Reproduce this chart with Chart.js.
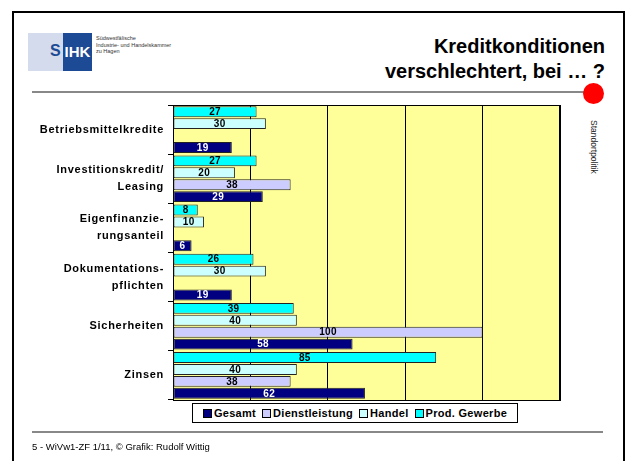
<!DOCTYPE html>
<html>
<head>
<meta charset="utf-8">
<script src="https://cdn.jsdelivr.net/npm/chart.js"></script>
<style>
  body { margin: 0; width: 627px; height: 461px; background: #fff; overflow: hidden; position: relative; font-family: Arial, "Liberation Sans", sans-serif; }
  .abs { position: absolute; }
  #frame { left: 12px; top: 11px; width: 609px; height: 470px; border: 2px solid #000; }
  #logo { left: 28px; top: 33px; width: 64px; height: 38px; background: #d3dbec; }
  #logoS { left: 50px; top: 42px; font: bold 16px Arial, "Liberation Sans", sans-serif; color: #1d4a94; }
  #logoIHK { left: 63px; top: 33px; width: 29px; height: 38px; background: #1d4a94; color: #fff; font: bold 15px Arial, "Liberation Sans", sans-serif; line-height: 38px; text-align: center; }
  #logoText { left: 96px; top: 35px; font: 5.5px Arial, "Liberation Sans", sans-serif; color: #333; line-height: 6.5px; }
  #title { right: 22px; top: 34px; font: bold 20px Arial, "Liberation Sans", sans-serif; text-align: right; line-height: 25px; color: #000; }
  #rule1 { left: 32px; top: 91px; width: 553px; height: 2px; background: #888; }
  #dot { left: 583px; top: 83px; width: 21px; height: 21px; border-radius: 50%; background: #f00; }
  #side { left: 589px; top: 120px; writing-mode: vertical-rl; font: 8.5px Arial, "Liberation Sans", sans-serif; color: #222; }
  #rule2 { left: 32px; top: 431px; width: 571px; height: 2px; background: #888; }
  #foot { left: 32px; top: 441px; font: 9.5px Arial, "Liberation Sans", sans-serif; color: #000; }
  #legend { left: 192px; top: 403px; width: 324px; height: 18px; border: 1px solid #000; background: #fff; display: flex; align-items: center; justify-content: center; gap: 6px; font: bold 11px Arial, "Liberation Sans", sans-serif; letter-spacing: 0.3px; }
  .item { display: flex; align-items: center; gap: 2px; }
  .sw { width: 7px; height: 7px; border: 1px solid #000; }
  canvas { position: absolute; left: 0; top: 0; }
</style>
</head>
<body>
<div id="frame" class="abs"></div>
<div id="logo" class="abs"></div>
<div id="logoS" class="abs">S</div>
<div id="logoIHK" class="abs">IHK</div>
<div id="logoText" class="abs">Südwestfälische<br>Industrie- und Handelskammer<br>zu Hagen</div>
<div id="title" class="abs">Kreditkonditionen<br>verschlechtert, bei … ?</div>
<div id="rule1" class="abs"></div>
<div id="dot" class="abs"></div>
<div id="side" class="abs">Standortpolitik</div>
<canvas id="chart" width="627" height="461"></canvas>
<div id="legend" class="abs"></div>
<div id="rule2" class="abs"></div>
<div id="foot" class="abs">5 - WiVw1-ZF 1/11, © Grafik: Rudolf Wittig</div>

<script>
var categories = [
    "Betriebsmittelkredite",
    ["Investitionskredit/", "Leasing"],
    ["Eigenfinanzie-", "rungsanteil"],
    ["Dokumentations-", "pflichten"],
    "Sicherheiten",
    "Zinsen"
];

var prodGewerbe = [27, 27, 8, 26, 39, 85];
var handel = [30, 20, 10, 30, 40, 40];
var dienstleistung = [null, 38, null, null, 100, 38];
var gesamt = [19, 29, 6, 19, 58, 62];

var xTicks = [0, 25, 50, 75, 100, 125];

var series = [
    { label: "Prod. Gewerbe", data: prodGewerbe, color: "#00ffff", text: "#000" },
    { label: "Handel", data: handel, color: "#ccffff", text: "#000" },
    { label: "Dienstleistung", data: dienstleistung, color: "#ccccff", text: "#000" },
    { label: "Gesamt", data: gesamt, color: "#000080", text: "#fff" }
];

var font = "Arial, 'Liberation Sans', sans-serif";

// yellow plot background and black frame, wider letters for the axis labels
var plotFrame = {
    id: "plotFrame",
    beforeDraw(chart) {
        var a = chart.chartArea, ctx = chart.ctx;
        ctx.save();
        ctx.fillStyle = "#ffff99";
        ctx.fillRect(a.left, a.top, a.right - a.left, a.bottom - a.top);
        ctx.restore();
        ctx.letterSpacing = "0.7px";
    },
    beforeDatasetsDraw(chart) {
        var a = chart.chartArea, ctx = chart.ctx;
        ctx.save();
        ctx.strokeStyle = "#000";
        ctx.lineWidth = 1;
        ctx.strokeRect(a.left + 0.5, a.top + 0.5, a.right - a.left - 1, a.bottom - a.top);
        ctx.restore();
    }
};

// value labels in the middle of each bar
var barLabels = {
    id: "barLabels",
    afterDatasetsDraw(chart) {
        var ctx = chart.ctx;
        ctx.save();
        ctx.letterSpacing = "0.3px";
        ctx.font = "bold 10px " + font;
        ctx.textAlign = "center";
        ctx.textBaseline = "middle";
        chart.data.datasets.forEach((ds, i) => {
            chart.getDatasetMeta(i).data.forEach((bar, j) => {
                if (ds.data[j] == null) return;
                ctx.fillStyle = series[i].text;
                ctx.fillText(ds.data[j], (bar.x + bar.base) / 2, bar.y + 0.5);
            });
        });
        ctx.restore();
    }
};

new Chart("chart", {
    type: "bar",
    data: {
        labels: categories,
        datasets: series.map(s => ({
            label: s.label,
            data: s.data,
            backgroundColor: s.color,
            borderColor: "#222",
            borderWidth: 1,
            borderSkipped: false,
            barPercentage: 0.92,
            categoryPercentage: 0.97
        }))
    },
    options: {
        indexAxis: "y",
        responsive: false,
        animation: false,
        layout: { padding: { top: 105, right: 67, bottom: 61, left: 0 } },
        plugins: {
            legend: { display: false },
            tooltip: { enabled: false }
        },
        scales: {
            x: {
                min: 0,
                max: 125,
                afterBuildTicks: s => { s.ticks = xTicks.map(v => ({ value: v })); },
                afterFit: s => { s.height = 0; },
                ticks: { display: false },
                grid: { color: "#000", lineWidth: 1, drawTicks: false },
                border: { color: "#000" }
            },
            y: {
                afterFit: s => { s.width = 173; },
                ticks: {
                    color: "#000",
                    padding: 4,
                    font: { family: font, size: 11, weight: "bold", lineHeight: 1.55 }
                },
                grid: { drawOnChartArea: false, color: "#000", tickLength: 5 },
                border: { color: "#000" }
            }
        }
    },
    plugins: [plotFrame, barLabels]
});

// legend box, same order as the original (reversed)
var legend = document.getElementById("legend");
series.slice().reverse().forEach(s => {
    var item = document.createElement("div");
    item.className = "item";
    item.innerHTML = '<div class="sw" style="background:' + s.color + '"></div><span>' + s.label + '</span>';
    legend.appendChild(item);
});
</script>
</body>
</html>
